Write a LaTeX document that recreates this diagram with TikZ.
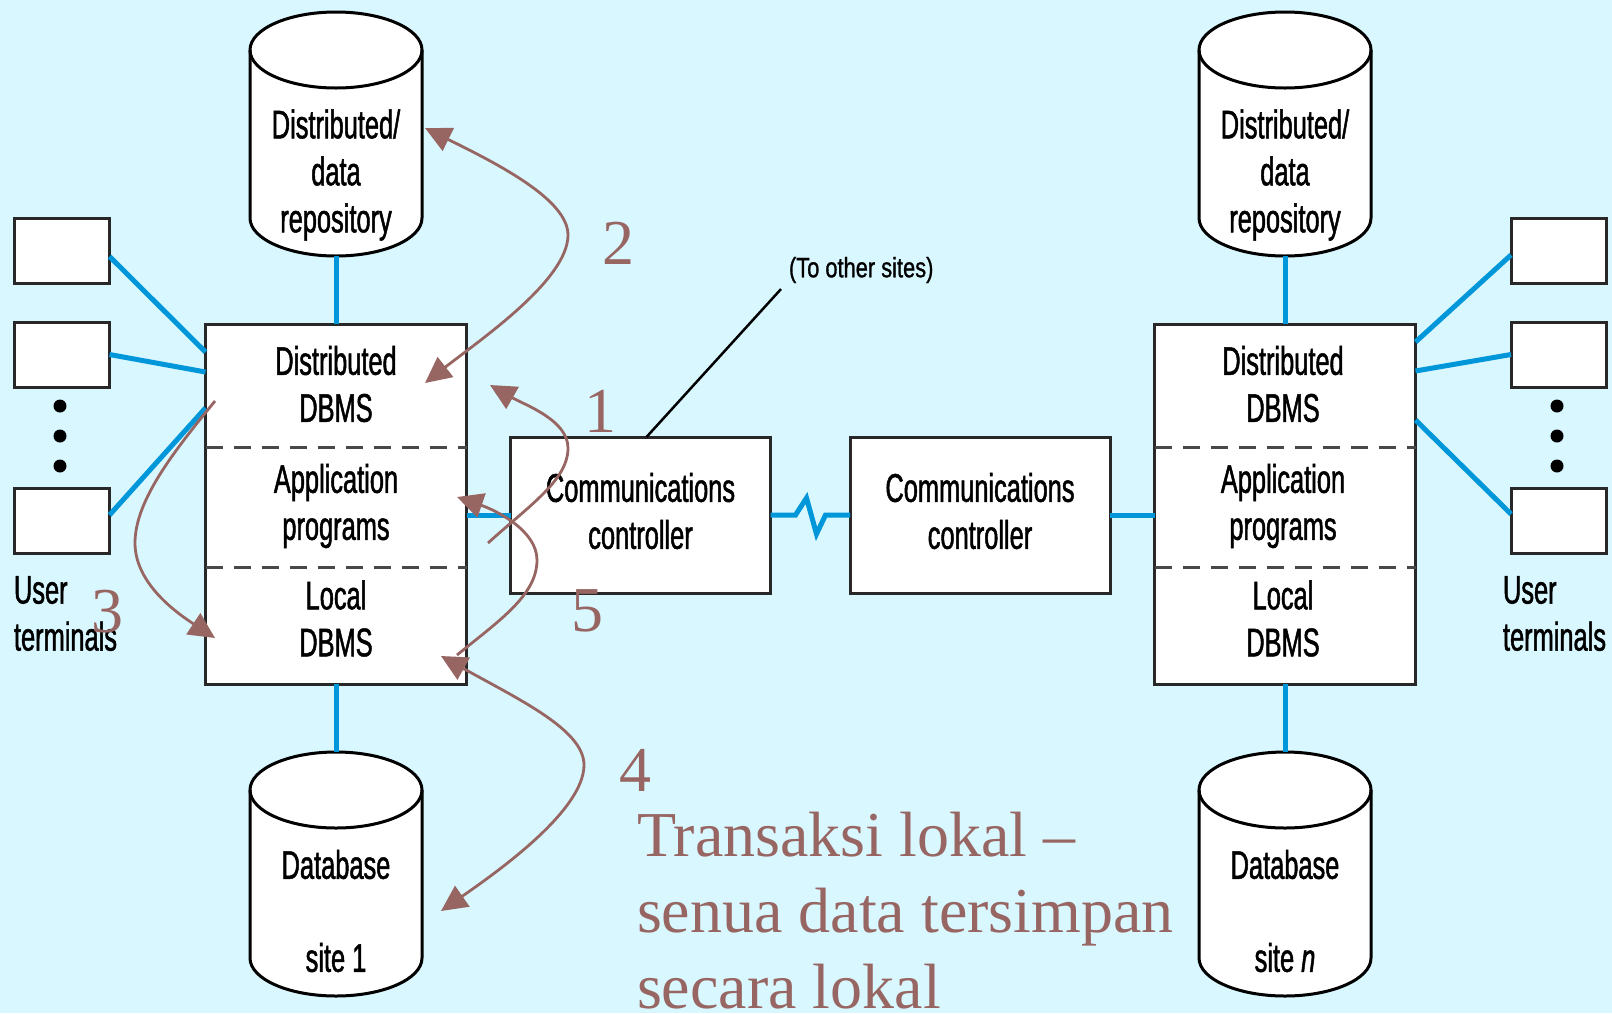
\documentclass[tikz,border=0pt]{standalone}
\usepackage{fontspec}
\setmainfont{Liberation Serif}
\newfontfamily\dgm[FakeStretch=0.635, FakeBold=1.2]{Liberation Sans}
\newfontfamily\tosfont[FakeStretch=0.78, FakeBold=1]{Liberation Sans}
\usetikzlibrary{arrows.meta,calc}

\definecolor{bgcyan}{RGB}{217,247,255}
\definecolor{linkblue}{RGB}{0,150,218}
\definecolor{stepbrown}{RGB}{152,102,98}
\definecolor{edge}{RGB}{40,40,40}

% database drum: name, centre x, top ellipse centre y, bottom ellipse centre y
\newcommand\dbdrum[4]{%
  \node[minimum width=172pt, minimum height={#4-#3+76}] (#1) at (#2,{(#3+#4)/2}) {};
  \path[draw=black, line width=3pt, fill=white]
    (#2-86,#3) -- (#2-86,#4)
    arc[start angle=180, end angle=360, x radius=86pt, y radius=38pt]
    -- (#2+86,#3)
    arc[start angle=0, end angle=180, x radius=86pt, y radius=38pt] -- cycle;
  \draw[black, line width=3pt] (#2-86,#3)
    arc[start angle=180, end angle=360, x radius=86pt, y radius=38pt];
}

\begin{document}
\begin{tikzpicture}[x=1pt, y=-1pt,
  every node/.style={inner sep=0pt, outer sep=0pt},
  dgmtext/.style={font={\dgm\fontsize{40}{47}\selectfont}, align=center, text=black},
  sitebox/.style={draw=edge, line width=3pt, fill=white, minimum width=261pt, minimum height=360pt},
  termbox/.style={draw=edge, line width=3pt, fill=white, minimum width=95pt, minimum height=65pt},
  commbox/.style={draw=edge, line width=3pt, fill=white, minimum width=260pt, minimum height=156pt},
  link/.style={draw=linkblue, line width=5pt},
  divider/.style={draw=edge!85, line width=3pt, dash pattern=on 17pt off 11pt},
  flowarrow/.style={draw=stepbrown, line width=2.8pt},
  stepnum/.style={text=stepbrown, font={\fontsize{64}{76}\selectfont}},
  note/.style={text=stepbrown, font={\fontsize{64}{76}\selectfont}, anchor=base west},
  >={Triangle[length=26pt, width=25pt]},
]
\fill[bgcyan] (0,0) rectangle (1612,1013);
\useasboundingbox (0,0) rectangle (1612,1013);

% ---------------- site 1 ----------------
\dbdrum{repoA}{336}{50}{218}
\node[dgmtext] at (336,175) {Distributed/\\data\\repository};

\node[sitebox] (siteA) at (336,504) {};
\draw[divider] ([yshift=-123pt]siteA.north west) -- ([yshift=-123pt]siteA.north east);
\draw[divider] ([yshift=-243pt]siteA.north west) -- ([yshift=-243pt]siteA.north east);
\node[dgmtext] (ddbmsA) at (336,384) {Distributed\\DBMS};
\node[dgmtext] (appA) at (336,506) {Application\\programs};
\node[dgmtext] (ldbmsA) at (336,618.5) {Local\\DBMS};

\dbdrum{dbA}{336}{790}{958}
\node[dgmtext] at (336,911) {Database\\[46pt]site 1};

\draw[link] (repoA.south) -- (siteA.north);
\draw[link] (siteA.south) -- (dbA.north);

\node[termbox] (tA1) at (62,250.5) {};
\node[termbox] (tA2) at (62,354.5) {};
\node[termbox] (tA3) at (62,521) {};
\foreach \yy in {406,436,466} \fill[black] (60,\yy) circle[radius=6.5pt];
\node[dgmtext, align=left, anchor=west] (usersA) at (14,613.5) {User\\terminals};
\draw[link] ([yshift=-6pt]tA1.east) -- ([yshift=-28pt]siteA.north west);
\draw[link] (tA2.east) -- ([yshift=-48pt]siteA.north west);
\draw[link] ([yshift=6pt]tA3.east) -- ([yshift=-84pt]siteA.north west);

% ---------------- communications ----------------
\node[commbox] (commA) at (640.5,515) {};
\node[commbox] (commB) at (980,515) {};
\node[dgmtext] at (640.5,511) {Communications\\controller};
\node[dgmtext] at (980,511) {Communications\\controller};
\draw[link] (commA.west) -- (commA.west -| siteA.east);
\draw[link] (commA.east) -- ++(25,0) -- ++(11,-17) -- ++(10,36) -- ++(9,-19) -- (commB.west);

\node[font={\tosfont\fontsize{28}{34}\selectfont}, anchor=west] (tos) at (789,270) {(To other sites)};
\draw[black, line width=2.5pt] ([xshift=6pt]commA.north) -- ([xshift=-8pt, yshift=-6pt]tos.south west);

% ---------------- site n ----------------
\dbdrum{repoB}{1285}{50}{218}
\node[dgmtext] at (1285,175) {Distributed/\\data\\repository};

\node[sitebox] (siteB) at (1285,504) {};
\draw[divider] ([yshift=-123pt]siteB.north west) -- ([yshift=-123pt]siteB.north east);
\draw[divider] ([yshift=-243pt]siteB.north west) -- ([yshift=-243pt]siteB.north east);
\node[dgmtext] (ddbmsB) at (1283,384) {Distributed\\DBMS};
\node[dgmtext] (appB) at (1283,506) {Application\\programs};
\node[dgmtext] (ldbmsB) at (1283,618.5) {Local\\DBMS};

\dbdrum{dbB}{1285}{790}{958}
\node[dgmtext] at (1285,911) {Database\\[46pt]site \textit{n}};

\draw[link] (repoB.south) -- (siteB.north);
\draw[link] (siteB.south) -- (dbB.north);
\draw[link] (commB.east) -- (commB.east -| siteB.west);

\node[termbox] (tB1) at (1558.5,250.5) {};
\node[termbox] (tB2) at (1558.5,354.5) {};
\node[termbox] (tB3) at (1558.5,521) {};
\foreach \yy in {406,436,466} \fill[black] (1557,\yy) circle[radius=6.5pt];
\node[dgmtext, align=left, anchor=west] (usersB) at (1503,613.5) {User\\terminals};
\draw[link] ([yshift=-18pt]siteB.north east) -- ([yshift=-4.5pt]tB1.west);
\draw[link] ([yshift=-47pt]siteB.north east) -- (tB2.west);
\draw[link] ([yshift=-96pt]siteB.north east) -- ([yshift=7pt]tB3.west);

% ---------------- steps of a local transaction ----------------
\coordinate (s1a) at (488,543);  \coordinate (s1b) at (490,385);
\coordinate (s2a) at (425,128);  \coordinate (s2b) at (425,383);
\coordinate (s3a) at (215,401);  \coordinate (s3b) at (215,638);
\coordinate (s4a) at (441,656);  \coordinate (s4b) at (441,911);
\coordinate (s5a) at (457,655);  \coordinate (s5b) at (457,497);

\draw[flowarrow, ->] (s1a) .. controls (530,505) and (568,480) .. (568,448)
                           .. controls (568,420) and (525,405) .. (s1b);
\draw[flowarrow, <->] (s2a) .. controls (500,165) and (568,200) .. (568,235)
                            .. controls (568,280) and (480,340) .. (s2b);
\draw[flowarrow, ->] (s3a) .. controls (175,450) and (135,500) .. (135,543)
                           .. controls (135,585) and (180,615) .. (s3b);
\draw[flowarrow, <->] (s4a) .. controls (520,700) and (584,730) .. (584,765)
                            .. controls (584,810) and (500,870) .. (s4b);
\draw[flowarrow, ->] (s5a) .. controls (500,620) and (537,595) .. (537,560)
                           .. controls (537,530) and (495,510) .. (s5b);

\node[stepnum] (n1) at (600,411) {1};
\node[stepnum] (n2) at (618,243) {2};
\node[stepnum] (n3) at (107,612) {3};
\node[stepnum] (n4) at (635,770) {4};
\node[stepnum] (n5) at (587,611) {5};

\node[note] (noteA) at (637,856) {Transaksi lokal –};
\node[note] (noteB) at (637,932) {senua data tersimpan};
\node[note] (noteC) at (637,1008) {secara lokal};
\end{tikzpicture}
\end{document}
